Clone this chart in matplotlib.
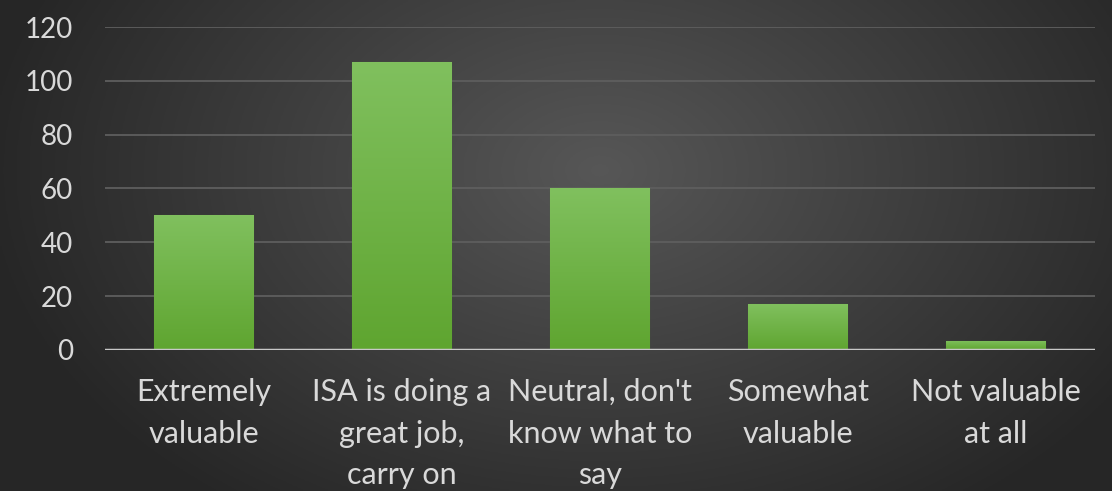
import numpy as np
import matplotlib.pyplot as plt
from matplotlib.colors import LinearSegmentedColormap

categories = ["Extremely\nvaluable", "ISA is doing a\ngreat job,\ncarry on",
              "Neutral, don't\nknow what to\nsay", "Somewhat\nvaluable",
              "Not valuable\nat all"]
counts = [50, 107, 60, 17, 3.5]
yticks = [0, 20, 40, 60, 80, 100, 120]

txt = '#d9d9d9'
font = ['Lato', 'DejaVu Sans']

fig = plt.figure(figsize=(11.12, 4.91), dpi=100)

# radial dark background
bg = fig.add_axes([0, 0, 1, 1], zorder=-10)
xx, yy = np.meshgrid(np.linspace(0, 1112, 400), np.linspace(0, 491, 200))
r = np.sqrt(((xx - 600) / 620) ** 2 + ((yy - 170) / 420) ** 2)
shade = np.clip(0.34 - 0.19 * r, 0.15, 0.34)
bg.imshow(np.dstack([shade] * 3), extent=[0, 1112, 491, 0], aspect='auto')
bg.axis('off')

ax = fig.add_axes([0.0944, 0.2872, 0.8903, 0.6578])
ax.patch.set_alpha(0)
x = np.arange(len(categories))
bars = ax.bar(x, counts, width=0.5, color='#6db33f', edgecolor='#4f8a2c',
              linewidth=0.8, zorder=3)

cmap = LinearSegmentedColormap.from_list('g', ['#5fa530', '#80c05e'])
grad = np.linspace(0, 1, 100).reshape(-1, 1)
for b in bars:
    im = ax.imshow(grad, cmap=cmap, origin='lower', aspect='auto', zorder=3,
                   extent=[b.get_x(), b.get_x() + b.get_width(), 0, b.get_height()])
    im.set_clip_path(b)

ax.set_xlim(-0.5, 4.5)
ax.set_ylim(0, 120)
ax.set_yticks(yticks)
ax.set_xticks(x)
ax.set_xticklabels(categories, linespacing=1.6)
ax.yaxis.grid(True, color='#5e5e5e', linewidth=1.3, zorder=0)
ax.axhline(0, color='#c8c8c8', linewidth=2.5, zorder=4)
for s in ax.spines.values():
    s.set_visible(False)
ax.tick_params(axis='both', length=0, colors=txt)
ax.tick_params(axis='y', pad=23, labelsize=20)
ax.tick_params(axis='x', pad=20, labelsize=22)
for lab in ax.get_xticklabels() + ax.get_yticklabels():
    lab.set_family(font)

fig.savefig('out.png', dpi=100)
